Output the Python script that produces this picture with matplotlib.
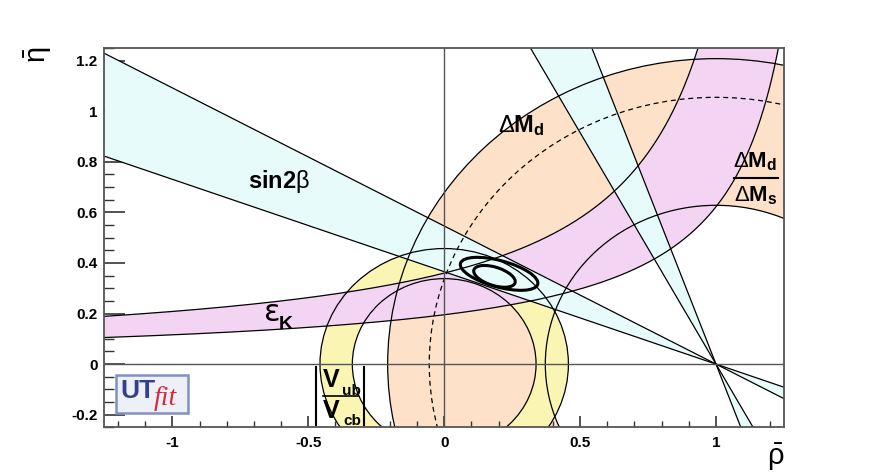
import numpy as np
import matplotlib
matplotlib.use("Agg")
import matplotlib.pyplot as plt
from matplotlib.patches import Wedge, Circle, Ellipse, FancyBboxPatch
from matplotlib.lines import Line2D

plt.rcParams['font.family'] = ['Liberation Sans', 'DejaVu Sans']
plt.rcParams['mathtext.fontset'] = 'custom'
plt.rcParams['mathtext.rm'] = 'Liberation Sans'
plt.rcParams['mathtext.bf'] = 'Liberation Sans:bold'
plt.rcParams['mathtext.it'] = 'Liberation Sans:italic'
plt.rcParams['mathtext.default'] = 'rm'

# ---------------- data ----------------
x_range = [-1.25, 1.25]
y_range = [-0.25, 1.25]
x_ticks = [-1, -0.5, 0, 0.5, 1]
x_tick_labels = ["-1", "-0.5", "0", "0.5", "1"]
y_ticks = [-0.2, 0, 0.2, 0.4, 0.6, 0.8, 1.0, 1.2]
y_tick_labels = ["-0.2", "0", "0.2", "0.4", "0.6", "0.8", "1", "1.2"]

# sin2beta: band of beta angles (deg) at apex (1,0); second solution pi/2 - beta
beta_deg = [20.07, 28.64]
apex = (1.0, 0.0)

# Delta M_d circles around (1,0): inner, central (dashed), outer radius
dmd_radii = [0.628, 1.055, 1.208]

# |Vub/Vcb| circles around (0,0): inner, outer radius
vub_radii = [0.338, 0.457]

# eps_K band edges:  eta = d + k / (c - rho)
epsk_lower = dict(k=0.2843, c=1.457, d=0.0)
epsk_upper = dict(k=0.4536, c=1.300, d=0.011)

# fit contours (centre rho, centre eta, semi-major, semi-minor, angle deg)
contour_centres_rho = [0.202, 0.185]
contour_centres_eta = [0.357, 0.347]
contour_semi_major = [0.148, 0.080]
contour_semi_minor = [0.052, 0.036]
contour_angle_deg = [-16.5, -19.4]

# colours
c_dmd = "#fde1c8"
c_vub = "#fbf5b4"
c_eps = "#f3d5f3"
c_s2b = "#e7fbfb"

# ---------------- figure ----------------
fig = plt.figure(figsize=(8.72, 4.75), dpi=100)
ax = fig.add_axes([0.1198, 0.1004, 0.7792, 0.7985])
ax.set_xlim(*x_range)
ax.set_ylim(*y_range)

# Delta M_d annulus
ax.add_patch(Wedge(apex, dmd_radii[2], 0, 360, width=dmd_radii[2] - dmd_radii[0],
                   facecolor=c_dmd, edgecolor='none', zorder=1))
# Vub/Vcb annulus
ax.add_patch(Wedge((0, 0), vub_radii[1], 0, 360, width=vub_radii[1] - vub_radii[0],
                   facecolor=c_vub, edgecolor='none', zorder=2))

# eps_K band
rho = np.linspace(x_range[0], x_range[1], 800)
def hyper(p, r):
    v = p['d'] + p['k'] / np.clip(p['c'] - r, 1e-3, None)
    return np.clip(v, -5, 5)
eps_lo = hyper(epsk_lower, rho)
eps_hi = hyper(epsk_upper, rho)
ax.fill_between(rho, eps_lo, eps_hi, facecolor=c_eps, edgecolor='none', zorder=3)
ax.plot(rho, eps_lo, color='k', lw=0.9, zorder=6)
ax.plot(rho, eps_hi, color='k', lw=0.9, zorder=6)

# sin2beta bands
slopes = np.tan(np.radians(beta_deg))
xs = np.linspace(x_range[0], x_range[1], 50)
ax.fill_between(xs, slopes[0] * (apex[0] - xs), slopes[1] * (apex[0] - xs),
                facecolor=c_s2b, edgecolor='none', zorder=4)
steep = 1.0 / slopes
ys = np.linspace(y_range[0], y_range[1], 50)
ax.fill_betweenx(ys, apex[0] - ys / steep[0], apex[0] - ys / steep[1],
                 facecolor=c_s2b, edgecolor='none', zorder=4)
for m in slopes:
    ax.plot(xs, m * (apex[0] - xs), color='k', lw=0.9, zorder=6)
for m in steep:
    ax.plot(apex[0] - ys / m, ys, color='k', lw=0.9, zorder=6)

# circle outlines
ax.add_patch(Circle(apex, dmd_radii[0], fill=False, ec='k', lw=0.9, zorder=6))
ax.add_patch(Circle(apex, dmd_radii[1], fill=False, ec='k', lw=0.9, ls=(0, (4, 3)), zorder=6))
ax.add_patch(Circle(apex, dmd_radii[2], fill=False, ec='k', lw=0.9, zorder=6))
for r in vub_radii:
    ax.add_patch(Circle((0, 0), r, fill=False, ec='k', lw=0.9, zorder=6))

# axes lines
ax.axhline(0, color='#555555', lw=1.0, zorder=7)
ax.axvline(0, color='#555555', lw=1.0, zorder=7)

# fit contours
for cx, cy, a, b, ang in zip(contour_centres_rho, contour_centres_eta,
                             contour_semi_major, contour_semi_minor, contour_angle_deg):
    ax.add_patch(Ellipse((cx, cy), 2 * a, 2 * b, angle=ang, fill=False,
                         ec='k', lw=2.2, zorder=8))

# ---------------- axes style ----------------
for s in ax.spines.values():
    s.set_color('#555555')
    s.set_linewidth(1.3)
    s.set_zorder(10)
ax.set_xticks(x_ticks)
ax.set_xticklabels(x_tick_labels)
ax.set_yticks(y_ticks)
ax.set_yticklabels(y_tick_labels)
ax.set_xticks(np.arange(-1.2, 1.25, 0.1), minor=True)
ax.set_yticks(np.arange(-0.25, 1.26, 0.05), minor=True)
ax.tick_params(axis='x', which='major', direction='in', length=8, width=1.2,
               color='#333333', pad=6, labelsize=11, top=False)
ax.tick_params(axis='x', which='minor', direction='in', length=4, width=1.0,
               color='#333333', top=False)
ax.tick_params(axis='y', which='major', direction='in', length=15, width=1.2,
               color='#333333', pad=5, labelsize=11, right=False)
ax.tick_params(axis='y', which='minor', direction='in', length=7.5, width=1.0,
               color='#333333', right=False)
for lab in ax.get_xticklabels() + ax.get_yticklabels():
    lab.set_fontweight('bold')

# axis titles
fig.text(776 / 872, 1 - 457 / 475, r'$\bar{\rho}$', fontsize=21, ha='center', va='center')
fig.text(38 / 872, 1 - 55 / 475, r'$\bar{\eta}$', fontsize=21, ha='center', va='center',
         rotation=90)

# ---------------- labels ----------------
ax.text(-0.608, 0.722, r'sin2$\beta$', fontsize=17, fontweight='bold',
        ha='center', va='center', zorder=9)
ax.text(0.282, 0.945, r'$\Delta\mathbf{M}_\mathbf{d}$', fontsize=17,
        ha='center', va='center', zorder=9)
ax.text(-0.662, 0.205, 'ε', fontsize=22, family='DejaVu Sans',
        ha='left', va='center', zorder=9)
ax.text(-0.608, 0.158, 'K', fontsize=14, fontweight='bold', ha='left', va='center', zorder=9)
# DeltaMd / DeltaMs
ax.text(1.145, 0.80, r'$\Delta\mathbf{M}_\mathbf{d}$', fontsize=16,
        ha='center', va='center', zorder=9)
ax.text(1.145, 0.665, r'$\Delta\mathbf{M}_\mathbf{s}$', fontsize=16,
        ha='center', va='center', zorder=9)
ax.add_line(Line2D([1.065, 1.23], [0.737, 0.737], color='k', lw=1.5, zorder=9))
# |Vub/Vcb|
ax.add_line(Line2D([-0.473, -0.473], [-0.013, -0.24], color='k', lw=1.5, zorder=9))
ax.add_line(Line2D([-0.296, -0.296], [-0.013, -0.24], color='k', lw=1.5, zorder=9))
ax.add_line(Line2D([-0.446, -0.318], [-0.128, -0.128], color='k', lw=1.2, zorder=9))
ax.text(-0.448, -0.09, 'V', fontsize=18, fontweight='bold', ha='left', va='baseline', zorder=9)
ax.text(-0.375, -0.121, 'ub', fontsize=11, fontweight='bold', ha='left', va='baseline', zorder=9)
ax.text(-0.445, -0.213, 'V', fontsize=18, fontweight='bold', ha='left', va='baseline', zorder=9)
ax.text(-0.372, -0.24, 'cb', fontsize=11, fontweight='bold', ha='left', va='baseline', zorder=9)

# UTfit logo
ax.add_patch(FancyBboxPatch((-1.208, -0.193), 0.265, 0.150,
                            boxstyle='square,pad=0', facecolor='#eef0f8',
                            edgecolor='#8090c0', lw=1.8, zorder=9))
ax.text(-1.193, -0.135, 'UT', fontsize=19, fontweight='bold', color='#34408e',
        ha='left', va='baseline', zorder=10)
ax.text(-1.070, -0.161, 'fit', fontsize=20, fontstyle='italic', color='#d8283a',
        family='Liberation Serif', ha='left', va='baseline', zorder=10)

fig.savefig('out.png', dpi=100)
